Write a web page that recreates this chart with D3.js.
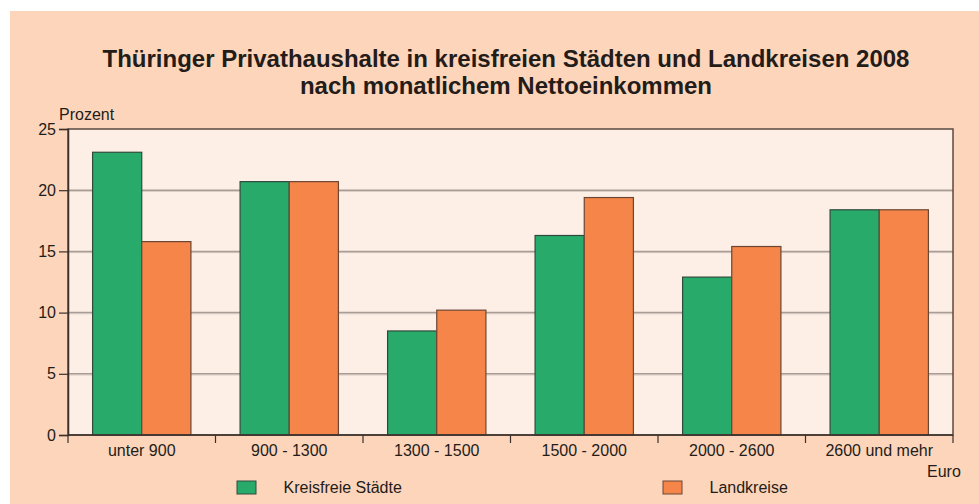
<!DOCTYPE html>
<html>
<head>
<meta charset="utf-8">
<script src="https://cdn.jsdelivr.net/npm/d3@7"></script>
<style>
  body { margin: 0; background: #ffffff; }
  text { font-family: "Liberation Sans", Arial, sans-serif; fill: #231c18; }
</style>
</head>
<body>
<div id="chart"></div>
<script>
var categories = ['unter 900', '900 - 1300', '1300 - 1500', '1500 - 2000', '2000 - 2600', '2600 und mehr']
var kreisfreie = [23.1, 20.7, 8.5, 16.3, 12.9, 18.4]
var landkreise = [15.8, 20.7, 10.2, 19.4, 15.4, 18.4]
var seriesNames = ['Kreisfreie Städte', 'Landkreise']
var yTicks = [0, 5, 10, 15, 20, 25]

var W = 979, H = 504
var plotLeft = 68, plotRight = 953, plotTop = 129, plotBottom = 435
var colors = { 'Kreisfreie Städte': '#27aa6a', 'Landkreise': '#f58549' }
var strokes = { 'Kreisfreie Städte': '#2f4a3c', 'Landkreise': '#6b4634' }

var svg = d3.select('#chart').append('svg')
    .attr('width', W)
    .attr('height', H)

// outer panel
svg.append('rect')
    .attr('x', 10)
    .attr('y', 11)
    .attr('width', W - 10)
    .attr('height', H - 11)
    .attr('fill', '#fdd5bb')

svg.append('text')
    .attr('x', 506)
    .attr('y', 67)
    .attr('text-anchor', 'middle')
    .style('font-weight', 'bold')
    .style('font-size', '24px')
    .text('Thüringer Privathaushalte in kreisfreien Städten und Landkreisen 2008')
svg.append('text')
    .attr('x', 506)
    .attr('y', 94)
    .attr('text-anchor', 'middle')
    .style('font-weight', 'bold')
    .style('font-size', '24px')
    .text('nach monatlichem Nettoeinkommen')

var y = d3.scaleLinear().domain([0, 25]).range([plotBottom, plotTop])
var x = d3.scaleBand().domain(categories).range([plotLeft, plotRight]).padding(0)
var xs = d3.scaleBand().domain(seriesNames).range([0, x.bandwidth()])
    .paddingInner(0).paddingOuter(0.5)

// plot background
svg.append('rect')
    .attr('x', plotLeft)
    .attr('y', plotTop)
    .attr('width', plotRight - plotLeft)
    .attr('height', plotBottom - plotTop)
    .attr('fill', '#fdefe5')

// grid lines
var inner = yTicks.filter(function(d) { return d > 0 && d < 25 })
var grid = svg.append('g')
grid.selectAll('line.shadow')
    .data(inner)
    .enter().append('line')
    .attr('x1', plotLeft)
    .attr('x2', plotRight)
    .attr('y1', function(d) { return y(d) + 1.2 })
    .attr('y2', function(d) { return y(d) + 1.2 })
    .attr('stroke', '#d9cbc2')
    .attr('stroke-width', 1)
grid.selectAll('line.main')
    .data(inner)
    .enter().append('line')
    .attr('x1', plotLeft)
    .attr('x2', plotRight)
    .attr('y1', function(d) { return y(d) })
    .attr('y2', function(d) { return y(d) })
    .attr('stroke', '#a89d96')
    .attr('stroke-width', 1.5)

// bars
var rows = categories.map(function(c, i) {
    return { cat: c, values: [
        { name: seriesNames[0], v: kreisfreie[i] },
        { name: seriesNames[1], v: landkreise[i] }
    ] }
})
var groups = svg.append('g').selectAll('g')
    .data(rows)
    .enter().append('g')
    .attr('transform', function(d) { return 'translate(' + x(d.cat) + ',0)' })
groups.selectAll('rect')
    .data(function(d) { return d.values })
    .enter().append('rect')
    .attr('x', function(d) { return xs(d.name) })
    .attr('y', function(d) { return y(d.v) })
    .attr('width', xs.bandwidth())
    .attr('height', function(d) { return y(0) - y(d.v) })
    .attr('fill', function(d) { return colors[d.name] })
    .attr('stroke', function(d) { return strokes[d.name] })
    .attr('stroke-width', 1.2)

// frame
svg.append('rect')
    .attr('x', plotLeft)
    .attr('y', plotTop)
    .attr('width', plotRight - plotLeft)
    .attr('height', plotBottom - plotTop)
    .attr('fill', 'none')
    .attr('stroke', '#5a4a42')
    .attr('stroke-width', 1.5)

// y axis
var yAxis = svg.append('g')
    .attr('transform', 'translate(' + plotLeft + ',0)')
    .call(d3.axisLeft(y).tickValues(yTicks).tickSize(9).tickPadding(3))
yAxis.select('.domain').attr('stroke', '#3a302b').attr('stroke-width', 1.5)
yAxis.selectAll('.tick line').attr('stroke', '#3a302b').attr('stroke-width', 1.2)
yAxis.selectAll('.tick text')
    .style('font-size', '16px')
    .style('font-family', '"Liberation Sans", Arial, sans-serif')
    .attr('fill', '#231c18')

svg.append('text')
    .attr('x', 59)
    .attr('y', 120)
    .style('font-size', '16px')
    .text('Prozent')

// x axis: ticks on band boundaries, labels in band centres
var xAxis = svg.append('g')
xAxis.append('line')
    .attr('x1', plotLeft)
    .attr('x2', plotRight)
    .attr('y1', plotBottom)
    .attr('y2', plotBottom)
    .attr('stroke', '#3a302b')
    .attr('stroke-width', 1.5)
var bounds = categories.map(function(c) { return x(c) }).concat([plotRight])
xAxis.selectAll('line.tick')
    .data(bounds)
    .enter().append('line')
    .attr('x1', function(d) { return d })
    .attr('x2', function(d) { return d })
    .attr('y1', plotBottom)
    .attr('y2', plotBottom + 8)
    .attr('stroke', '#3a302b')
    .attr('stroke-width', 1.2)
xAxis.selectAll('text')
    .data(categories)
    .enter().append('text')
    .attr('x', function(d) { return x(d) + x.bandwidth() / 2 })
    .attr('y', 456)
    .attr('text-anchor', 'middle')
    .style('font-size', '16px')
    .text(function(d) { return d })

svg.append('text')
    .attr('x', 927)
    .attr('y', 477)
    .style('font-size', '16px')
    .text('Euro')

// legend
var legendX = [237, 663]
var legend = svg.append('g').selectAll('g')
    .data(seriesNames)
    .enter().append('g')
    .attr('transform', function(d, i) { return 'translate(' + legendX[i] + ',481)' })
legend.append('rect')
    .attr('width', 19)
    .attr('height', 13)
    .attr('fill', function(d) { return colors[d] })
    .attr('stroke', function(d) { return strokes[d] })
    .attr('stroke-width', 1)
legend.append('text')
    .attr('x', 46.5)
    .attr('y', 12)
    .style('font-size', '16px')
    .text(function(d) { return d })
</script>
</body>
</html>
